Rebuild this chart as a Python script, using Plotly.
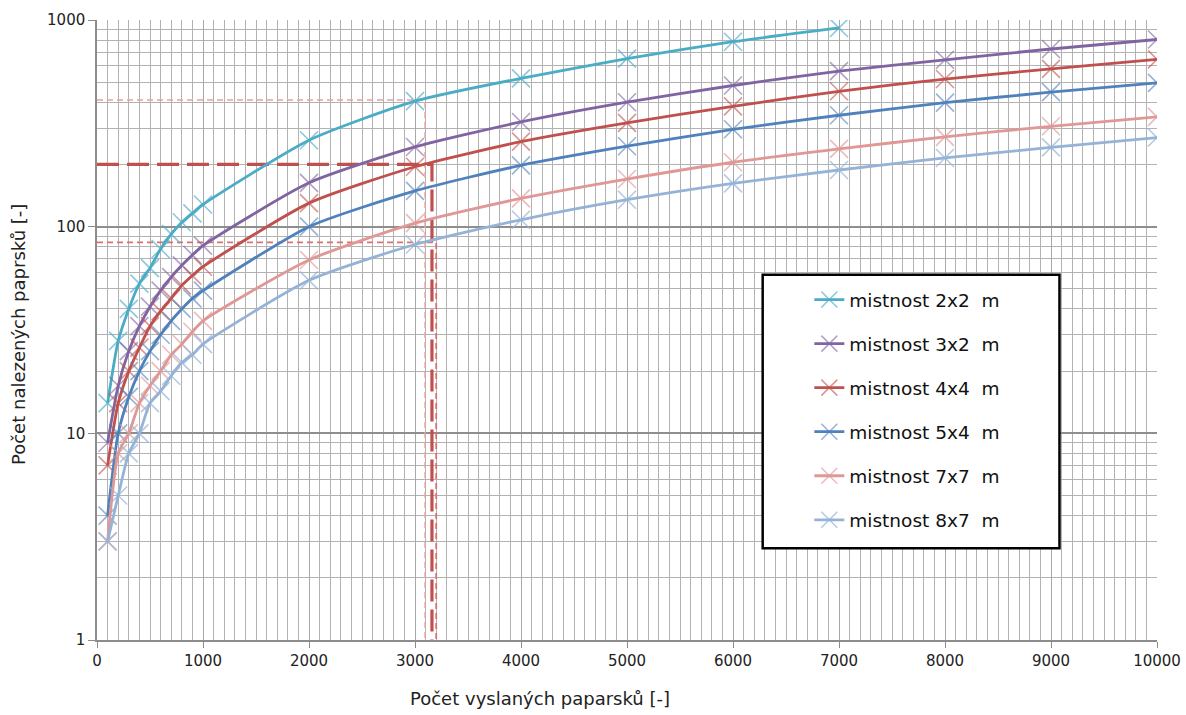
import plotly.graph_objects as go

# ---- data ----
rays_sent = [100, 200, 300, 400, 500, 600, 700, 800, 900, 1000,
             2000, 3000, 4000, 5000, 6000, 7000, 8000, 9000, 10000]

room_2x2 = [14, 28, 40, 53, 63, 78, 92, 105, 116, 128, 262, 405, 522, 650, 785, 915]
room_3x2 = [9, 17, 25, 33, 41, 49, 57, 65, 73, 81, 163, 243, 321, 400, 482, 566, 642, 724, 805]
room_4x4 = [7, 14, 20, 26, 33, 39, 45, 52, 58, 64, 130, 195, 258, 318, 382, 452, 518, 580, 645]
room_5x4 = [4, 10, 15, 20, 25, 30, 35, 40, 45, 49, 100, 149, 198, 245, 296, 346, 398, 448, 496]
room_7x7 = [3, 8, 10, 14, 17, 20, 24, 27, 31, 35, 69, 104, 137, 170, 205, 238, 272, 306, 340]
room_8x7 = [3, 5, 8, 10, 14, 16, 19, 22, 24, 27, 55, 82, 108, 135, 162, 188, 215, 242, 270]

series_names = ["mistnost 2x2  m", "mistnost 3x2  m", "mistnost 4x4  m",
                "mistnost 5x4  m", "mistnost 7x7  m", "mistnost 8x7  m"]
series_values = [room_2x2, room_3x2, room_4x4, room_5x4, room_7x7, room_8x7]
series_colors = ["#4BACC6", "#8064A2", "#C0504D", "#4F81BD", "#E09896", "#95B3D7"]
marker_colors = ["rgba(75,172,198,0.65)", "rgba(128,100,162,0.6)", "rgba(192,80,77,0.6)",
                 "rgba(79,129,189,0.6)", "rgba(224,152,150,0.65)", "rgba(149,179,215,0.7)"]

# reference (read-off) lines
ref_levels = [410, 200, 84]
ref_rays = [3095, 3160, 3200]
ref_colors = ["#E8A3A1", "#C0504D", "#D9716E"]
ref_widths = [1.5, 3.2, 1.8]
ref_dashes = ["6px,4px", "22px,8px", "6px,4px"]

x_ticks = [0, 1000, 2000, 3000, 4000, 5000, 6000, 7000, 8000, 9000, 10000]
y_ticks = [1, 10, 100, 1000]
y_minor = [m * d for d in (1, 10, 100) for m in range(2, 10)]

fig = go.Figure()

# reference dashed lines (below data)
for lvl, rx, c, w, d in zip(ref_levels, ref_rays, ref_colors, ref_widths, ref_dashes):
    fig.add_trace(go.Scatter(x=[0, rx, rx], y=[lvl, lvl, 1], mode="lines",
                             line=dict(color=c, width=w, dash=d),
                             showlegend=False, hoverinfo="skip"))

for i, (name, vals, col, mcol) in enumerate(zip(series_names, series_values,
                                                 series_colors, marker_colors)):
    fig.add_trace(go.Scatter(
        x=rays_sent[:len(vals)], y=vals, name=name, mode="lines+markers",
        legendgroup=f"g{i}",
        line=dict(color=col, width=2.8, shape="spline", smoothing=0.6),
        marker=dict(symbol="x-thin", size=18, line=dict(color=mcol, width=1.6)),
    ))

# legend frame
fig.add_shape(type="rect", xref="paper", yref="paper",
              x0=0.628, x1=0.908, y0=0.148, y1=0.589,
              line=dict(color="black", width=2.5), fillcolor="white", layer="above")

font_fam = "DejaVu Sans"
fig.update_layout(
    width=1186, height=715,
    margin=dict(l=97, r=29, t=20, b=75),
    paper_bgcolor="white", plot_bgcolor="white",
    font=dict(family=font_fam, color="#222222"),
    showlegend=True,
    legend=dict(x=0.672, y=0.579, xanchor="left", yanchor="top",
                bgcolor="rgba(0,0,0,0)", borderwidth=0,
                font=dict(family=font_fam, size=18.5, color="#111111"),
                tracegroupgap=17, itemwidth=30),
    xaxis=dict(range=[0, 10000], tickvals=x_ticks, ticktext=[str(v) for v in x_ticks],
               automargin=False,
               showgrid=True, gridcolor="#A8A8A8", gridwidth=1.2,
               ticks="outside", ticklen=6, tickcolor="#8C8C8C",
               showline=True, linecolor="#8C8C8C", linewidth=1.5,
               tickfont=dict(size=15, family=font_fam, color="#222222"),
               minor=dict(dtick=100, showgrid=True, gridcolor="#B2B2B2", gridwidth=1.2),
               zeroline=False),
    yaxis=dict(type="log", range=[0, 3], tickvals=y_ticks, ticktext=[str(v) for v in y_ticks],
               automargin=False,
               showgrid=True, gridcolor="#8E8E8E", gridwidth=1.5,
               ticks="outside", ticklen=7, tickcolor="#8C8C8C",
               showline=True, linecolor="#8C8C8C", linewidth=1.5,
               tickfont=dict(size=15, family=font_fam, color="#222222"),
               minor=dict(tickvals=y_minor, showgrid=True, gridcolor="#B2B2B2", gridwidth=1.2),
               zeroline=False),
    annotations=[
        dict(text="Počet vyslaných paparsků [-]", xref="paper", yref="paper",
             x=(540 - 97) / 1060, y=-0.095, xanchor="center", yanchor="middle",
             showarrow=False, font=dict(size=18, family=font_fam, color="#222222")),
        dict(text="Počet nalezených paprsků [-]", xref="paper", yref="paper",
             x=(18 - 97) / 1060, y=(640 - 335) / 620, xanchor="center", yanchor="middle",
             textangle=-90, showarrow=False,
             font=dict(size=18, family=font_fam, color="#222222")),
    ],
)

fig.write_html("out.html")
